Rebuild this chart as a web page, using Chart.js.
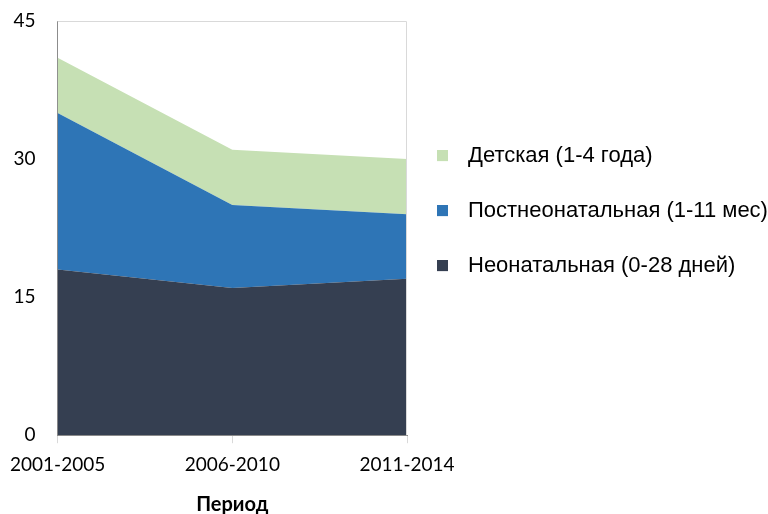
<!DOCTYPE html>
<html>
<head>
<meta charset="utf-8">
<script src="https://cdn.jsdelivr.net/npm/chart.js@4/dist/chart.umd.min.js"></script>
<style>
  html, body { margin: 0; padding: 0; background: #fff; }
  #wrap { width: 768px; height: 514px; position: relative; }
</style>
</head>
<body>
<div id="wrap"><canvas id="chart"></canvas></div>
<script>
// ── Data ──────────────────────────────────────────────────────────────────────
const periods      = ["2001-2005", "2006-2010", "2011-2014"];
const neonatal     = [18, 16, 17];   // Неонатальная (0-28 дней)
const postneonatal = [17, 9, 7];     // Постнеонатальная (1-11 мес)
const child        = [6, 6, 6];      // Детская (1-4 года)
const yTicks       = [0, 15, 30, 45];

const COLORS = { neo: "#353f51", post: "#2e75b6", child: "#c6e0b4" };
const TICK_FONT = { family: "Lato", size: 19 };

// legend marker: 11px square sitting at the left of a wider transparent image,
// so the label text gets the wider gap seen in the original
function legendSwatch(color) {
  const c = document.createElement("canvas");
  c.width = 23; c.height = 12;
  const g = c.getContext("2d");
  g.fillStyle = color;
  g.fillRect(0, 0, 11, 11);
  return c;
}

// thin grey frame on top/right of the plot area
const plotFrame = {
  id: "plotFrame",
  afterDatasetsDraw(chart) {
    const { ctx, chartArea: a } = chart;
    ctx.save();
    ctx.strokeStyle = "#d9d9d9";
    ctx.lineWidth = 1;
    ctx.beginPath();
    ctx.moveTo(a.left, a.top + 0.5);
    ctx.lineTo(a.right - 0.5, a.top + 0.5);
    ctx.lineTo(a.right - 0.5, a.bottom);
    ctx.stroke();
    ctx.restore();
  },
};

// move the legend column up a little (it is not centred on the plot)
const legendNudge = {
  id: "legendNudge",
  afterLayout(chart) {
    if (!chart.legend) return;
    chart.legend.top -= 17;
    chart.legend.bottom -= 17;
  },
};

function areaSet(label, data, color, fill) {
  return {
    label, data, fill,
    backgroundColor: color, borderColor: color, borderWidth: 0,
    pointRadius: 0, pointHoverRadius: 0, tension: 0,
    pointStyle: legendSwatch(color),
  };
}

new Chart(document.getElementById("chart"), {
  type: "line",
  data: {
    labels: periods,
    datasets: [
      areaSet("Неонатальная (0-28 дней)", neonatal, COLORS.neo, "origin"),
      areaSet("Постнеонатальная (1-11 мес)", postneonatal, COLORS.post, "-1"),
      areaSet("Детская (1-4 года)", child, COLORS.child, "-1"),
    ],
  },
  options: {
    responsive: true, maintainAspectRatio: false, animation: false,
    layout: { padding: 0 },
    plugins: {
      tooltip: { enabled: false },
      legend: {
        position: "right", fullSize: false, reverse: true, maxWidth: 361,
        labels: {
          usePointStyle: true, pointStyleWidth: 17, boxHeight: 11,
          padding: 33, color: "#000",
          font: { family: "Liberation Sans", size: 22 },
        },
      },
    },
    scales: {
      x: {
        offset: false,
        border: { color: "#8c8c8c", width: 1 },
        grid: { drawOnChartArea: false, drawTicks: true, tickLength: 8, color: "#d9d9d9" },
        ticks: { color: "#000", font: TICK_FONT, padding: 10, maxRotation: 0, autoSkip: false },
        title: {
          display: true, text: "Период", color: "#000",
          font: { family: "Lato", size: 20, weight: "bold" },
          padding: { top: 7, bottom: -3 },
        },
      },
      y: {
        stacked: true, min: 0, max: 45,
        afterBuildTicks(scale) { scale.ticks = yTicks.map((v) => ({ value: v })); },
        afterFit(scale) {
          scale.width = 57;
          scale.paddingTop = 21;   // room above the plot for the "45" label
        },
        border: { color: "#8c8c8c", width: 1 },
        grid: { display: false },
        ticks: { color: "#000", font: TICK_FONT, padding: 14 },
      },
    },
  },
  plugins: [plotFrame, legendNudge],
});
</script>
</body>
</html>
